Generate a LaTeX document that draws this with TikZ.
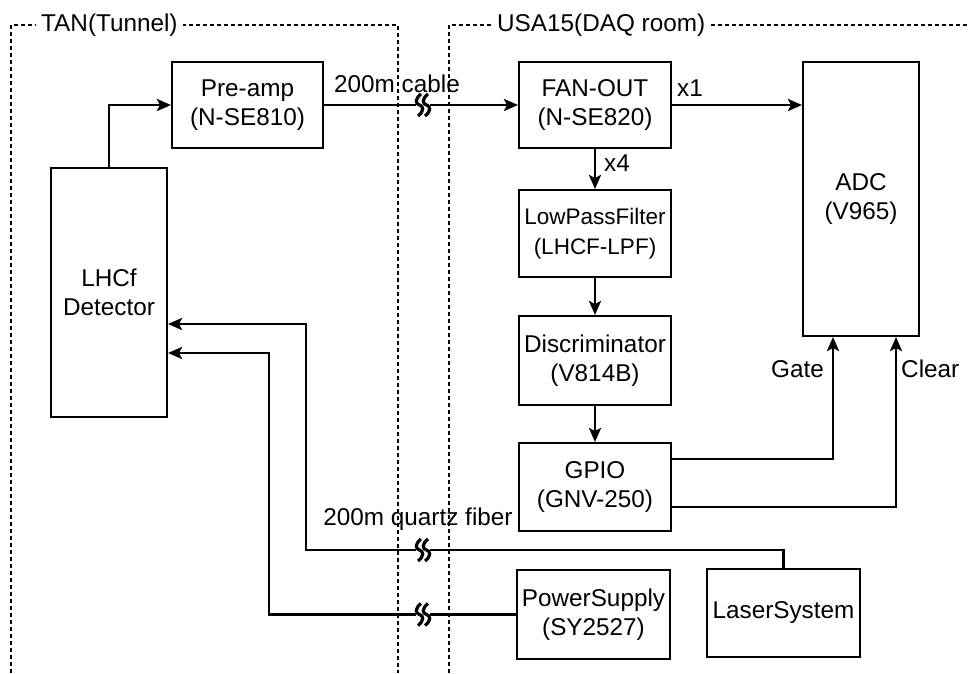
\documentclass[tikz,border=0pt]{standalone}
\usepackage{fontspec}
\setmainfont{Liberation Sans}
\usetikzlibrary{arrows.meta}
\begin{document}
\begin{tikzpicture}[x=1pt,y=-1pt,
  every node/.style={font=\fontsize{24.3}{29.5}\selectfont, inner sep=0pt, align=center},
  box/.style={draw, line width=2pt, minimum width=152pt, minimum height=88pt},
  arr/.style={line width=2.8pt, -{Stealth[length=14pt,width=12pt,inset=3pt]}},
  region/.style={line width=2pt, dash pattern=on 4pt off 3pt},
  lbl/.style={fill=white, inner xsep=5pt, inner ysep=2pt},
  brk/.pic={
    \fill[white] (-7,-5) rectangle (7,5);
    \foreach \dx in {-3.5,3.5}{
      \draw[line width=3.2pt] (\dx+1.5,-11) .. controls (\dx-5,-6) and (\dx-4,-1) .. (\dx,0)
        .. controls (\dx+4,1) and (\dx+5,6) .. (\dx-1.5,11);
    }
  }]
\useasboundingbox (0,0) rectangle (970,673);
% regions
\draw[region] (11,673) -- (11,25) -- (398,25) -- (398,673);
\draw[region] (449,673) -- (449,25) -- (972,25);
\node[lbl, anchor=west] (tan) at (36,25) {TAN(Tunnel)};
\node[lbl, anchor=west] (usa) at (492,25) {USA15(DAQ room)};
% boxes
\node[box, minimum width=116pt, minimum height=249pt] (det) at (109,292.5) {LHCf\\Detector};
\node[box, minimum width=151pt, minimum height=86pt] (pre) at (247.5,105) {Pre-amp\\(N-SE810)};
\node[box, minimum height=86pt] (fan) at (595,105) {FAN-OUT\\(N-SE820)};
\node[box, minimum width=116pt, minimum height=274pt] (adc) at (861,199) {ADC\\(V965)};
\node[box, minimum height=87pt, font=\fontsize{22.5}{29.5}\selectfont] (lpf) at (595,233.5) {LowPassFilter\\(LHCF-LPF)};
\node[box, minimum height=89pt] (disc) at (595,360.5) {Discriminator\\(V814B)};
\node[box] (gpio) at (595,487) {GPIO\\(GNV-250)};
\node[box, minimum width=153pt, minimum height=89pt] (ps) at (593.5,614.5) {PowerSupply\\(SY2527)};
\node[box, minimum width=153pt] (laser) at (783.5,613) {LaserSystem};
% connectors
\draw[arr] (det.north) |- (pre.west);
\draw[arr] (pre.east) -- (fan.west);
\pic at (423,105) {brk};
\node (cab) at (397,84) {200m cable};
\draw[arr] (fan.east) -- (adc.west |- fan.east);
\node (x1) at (690,88) {x1};
\draw[arr] (fan.south) -- (lpf.north);
\node (x4) at (617,163) {x4};
\draw[arr] (lpf.south) -- (disc.north);
\draw[arr] (disc.south) -- (gpio.north);
\coordinate (g1) at ([yshift=28pt]gpio.east);
\coordinate (g2) at ([yshift=-20pt]gpio.east);
\coordinate (a1) at ([xshift=-28pt]adc.south);
\coordinate (a2) at ([xshift=35pt]adc.south);
\draw[arr] (g1) -| (a1);
\draw[arr] (g2) -| (a2);
\node[anchor=east] (gate) at (824,369) {Gate};
\node[anchor=west] (clr) at (901,369) {Clear};
\coordinate (lk1) at (306,550);
\coordinate (pk1) at (269,614.5);
\coordinate (d1) at ([yshift=-31.5pt]det.east);
\coordinate (d2) at ([yshift=-60.5pt]det.east);
\draw[arr] (laser.north) |- (lk1) |- (d1);
\draw[arr] (ps.west) -- (pk1) |- (d2);
\pic at (423,550) {brk};
\pic at (423,614.5) {brk};
\node (fib) at (418,519) {200m quartz fiber};
\end{tikzpicture}
\end{document}
